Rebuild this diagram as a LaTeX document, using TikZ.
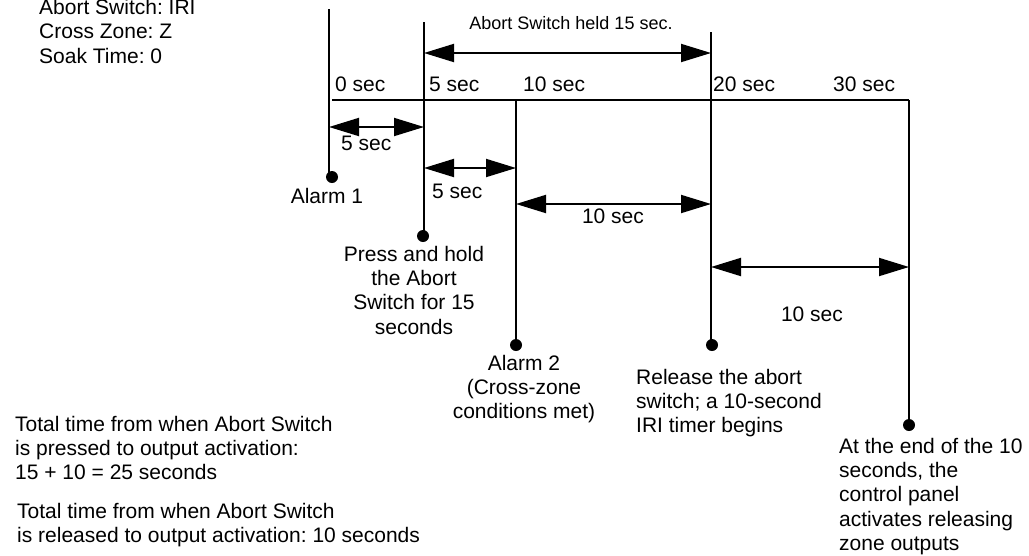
\documentclass[tikz,border=0pt]{standalone}
\usepackage{fontspec}
\setmainfont{Liberation Sans}
\usetikzlibrary{arrows.meta}
\frenchspacing
\begin{document}
\begin{tikzpicture}[x=1pt,y=-1pt,
  txt/.style={inner sep=0pt, font=\fontsize{21}{24.3}\selectfont},
  smalltxt/.style={inner sep=0pt, font=\fontsize{18}{21}\selectfont},
  vline/.style={line width=2pt},
  thinline/.style={line width=1.5pt},
  tline/.style={line width=2.5pt},
  dimarrow/.style={line width=1.9pt, {Triangle[length=30pt,width=18pt]}-{Triangle[length=30pt,width=18pt]}},
  dot/.style={circle, fill, inner sep=0pt, minimum size=12pt},
]
\useasboundingbox (0,0) rectangle (1029,555);

% settings text
\node[txt, anchor=north west, align=left] (settings) at (39,-1)
  {Abort Switch: IRI\\Cross Zone: Z\\Soak Time: 0};

% top coordinates of vertical lines
\coordinate (t0) at (329,9);
\coordinate (t5) at (424,22);
\coordinate (t10) at (516,100);
\coordinate (t20) at (711,32);
\coordinate (t30) at (909,100);
\coordinate (tl) at (332,100);

% dots
\node[dot] (d0) at (332,177) {};
\node[dot] (d5) at (423,236) {};
\node[dot] (d10) at (516,345) {};
\node[dot] (d20) at (712,345) {};
\node[dot] (d30) at (909,425) {};

% vertical lines
\draw[thinline] (t0) -- (t0 |- d0);
\draw[vline] (t5) -- (t5 |- d5);
\draw[vline] (t10) -- (t10 |- d10);
\draw[vline] (t20) -- (t20 |- d20);
\draw[vline] (t30) -- (t30 |- d30);

% timeline
\draw[tline] (tl) -- (t30);

% tick labels
\node[txt, anchor=base west] (l0) at (335,91) {0 sec};
\node[txt, anchor=base west] (l5) at (429,91) {5 sec};
\node[txt, anchor=base west] (l10) at (523,91) {10 sec};
\node[txt, anchor=base west] (l20) at (713,91) {20 sec};
\node[txt, anchor=base west] (l30) at (833,91) {30 sec};

% dimension arrows
\coordinate (h1) at (424,53);
\coordinate (h2) at (711,53);
\draw[dimarrow] (h1) -- (h2);
\node[smalltxt, anchor=base] (held) at (571,29) {Abort Switch held 15 sec.};

\coordinate (a1) at (329,127);
\coordinate (a2) at (424,127);
\draw[dimarrow] (a1) -- (a2);
\node[txt, anchor=base west] (s1) at (341,150) {5 sec};

\coordinate (b1) at (424,168);
\coordinate (b2) at (516,168);
\draw[dimarrow] (b1) -- (b2);
\node[txt, anchor=base west] (s2) at (432,198) {5 sec};

\coordinate (c1) at (516,204);
\coordinate (c2) at (711,204);
\draw[dimarrow] (c1) -- (c2);
\node[txt, anchor=base] (s3) at (613,223) {10 sec};

\coordinate (e1) at (711,267);
\coordinate (e2) at (909,267);
\draw[dimarrow] (e1) -- (e2);
\node[txt, anchor=base] (s4) at (812,321) {10 sec};

% event labels
\node[txt, anchor=base] (alarm1) at (327,203) {Alarm 1};
\node[txt, anchor=north, align=center] (press) at (414,245.7)
  {Press and hold\\the Abort\\Switch for 15\\seconds};
\node[txt, anchor=north, align=center] (alarm2) at (524,354.7)
  {Alarm 2\\(Cross-zone\\conditions met)};
\node[txt, anchor=north west, align=left] (release) at (636,368.7)
  {Release the abort\\switch; a 10-second\\IRI timer begins};
\node[txt, anchor=north west, align=left] (endtxt) at (839,437.7)
  {At the end of the 10\\seconds, the\\control panel\\activates releasing\\zone outputs};

% totals
\node[txt, anchor=north west, align=left] (total1) at (15,415.7)
  {Total time from when Abort Switch\\is pressed to output activation:\\15 + 10 = 25 seconds};
\node[txt, anchor=north west, align=left] (total2) at (17,502.7)
  {Total time from when Abort Switch\\is released to output activation: 10 seconds};
\end{tikzpicture}
\end{document}
